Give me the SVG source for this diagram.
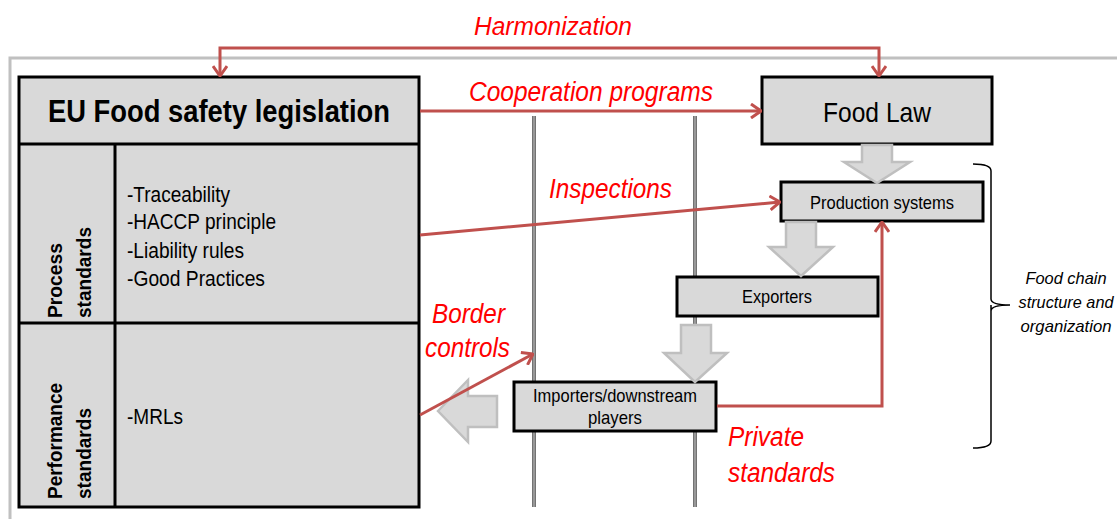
<svg xmlns="http://www.w3.org/2000/svg" width="1117" height="519" viewBox="0 0 1117 519">
<style>
.box{fill:#d9d9d9;stroke:#000;stroke-width:3}
.div{stroke:#000;stroke-width:3;fill:none}
.t{font-family:"Liberation Sans",Arial,sans-serif;fill:#000}
.b{font-weight:bold}
.red{font-family:"Liberation Sans",Arial,sans-serif;font-style:italic;fill:#ff0000}
.it{font-family:"Liberation Sans",Arial,sans-serif;font-style:italic;fill:#000}
.con{fill:none;stroke:#c0504d;stroke-width:3}
.blk{fill:#d9d9d9;stroke:#bfbfbf;stroke-width:2.5}
.vo{stroke:#444;stroke-width:3.5}
.vi{stroke:#d0d0d0;stroke-width:1.2}
</style>
<defs>
<marker id="arr" viewBox="0 0 12 16" refX="11" refY="8" markerWidth="12" markerHeight="16" markerUnits="userSpaceOnUse" orient="auto-start-reverse">
<path d="M1,1 L11,8 L1,15" fill="none" stroke="#c0504d" stroke-width="3"/>
</marker>
</defs>
<rect width="1117" height="519" fill="#fff"/>
<g id="frame">
<path d="M1117,58 L10,58 L10,519" fill="none" stroke="#c0c0c0" stroke-width="3"/>
</g>
<g id="borders">
<line class="vo" x1="534" y1="116" x2="534" y2="507"/>
<line class="vi" x1="534" y1="116" x2="534" y2="507"/>
<line class="vo" x1="695" y1="116" x2="695" y2="507"/>
<line class="vi" x1="695" y1="116" x2="695" y2="507"/>
</g>
<g id="eu-legislation">
<rect class="box" x="19" y="77" width="400" height="430"/>
<line class="div" x1="19" y1="144" x2="419" y2="144"/>
<line class="div" x1="19" y1="323" x2="419" y2="323"/>
<line class="div" x1="115" y1="144" x2="115" y2="507"/>
<text class="t b" x="219" y="122" font-size="32" text-anchor="middle" textLength="342" lengthAdjust="spacingAndGlyphs">EU Food safety legislation</text>
<text class="t b" font-size="20" transform="translate(62,318) rotate(-90)" textLength="75" lengthAdjust="spacingAndGlyphs">Process</text>
<text class="t b" font-size="20" transform="translate(91,318) rotate(-90)" textLength="91" lengthAdjust="spacingAndGlyphs">standards</text>
<text class="t b" font-size="20" transform="translate(62,499) rotate(-90)" textLength="116" lengthAdjust="spacingAndGlyphs">Performance</text>
<text class="t b" font-size="20" transform="translate(91,499) rotate(-90)" textLength="91" lengthAdjust="spacingAndGlyphs">standards</text>
<text class="t" x="127" y="202" font-size="22" textLength="103" lengthAdjust="spacingAndGlyphs">-Traceability</text>
<text class="t" x="127" y="229" font-size="22" textLength="149" lengthAdjust="spacingAndGlyphs">-HACCP principle</text>
<text class="t" x="127" y="258" font-size="22" textLength="117" lengthAdjust="spacingAndGlyphs">-Liability rules</text>
<text class="t" x="127" y="286" font-size="22" textLength="138" lengthAdjust="spacingAndGlyphs">-Good Practices</text>
<text class="t" x="127" y="424" font-size="22" textLength="56" lengthAdjust="spacingAndGlyphs">-MRLs</text>
</g>
<g id="food-law">
<rect class="box" x="762" y="77" width="230" height="67"/>
<text class="t" x="877" y="122" font-size="28" text-anchor="middle" textLength="108" lengthAdjust="spacingAndGlyphs">Food Law</text>
</g>
<g id="production-systems">
<rect class="box" x="781" y="182" width="202" height="39"/>
<text class="t" x="882" y="209" font-size="19" text-anchor="middle" textLength="144" lengthAdjust="spacingAndGlyphs">Production systems</text>
</g>
<g id="exporters">
<rect class="box" x="677" y="277" width="201" height="39"/>
<text class="t" x="777" y="303" font-size="19" text-anchor="middle" textLength="70" lengthAdjust="spacingAndGlyphs">Exporters</text>
</g>
<g id="importers">
<rect class="box" x="514" y="382" width="202" height="49"/>
<text class="t" x="615" y="402" font-size="19" text-anchor="middle" textLength="164" lengthAdjust="spacingAndGlyphs">Importers/downstream</text>
<text class="t" x="615" y="424" font-size="19" text-anchor="middle" textLength="54" lengthAdjust="spacingAndGlyphs">players</text>
</g>
<g id="flow-arrows">
<path class="blk" d="M862,145 L892,145 L892,162 L910,162 L877,183 L844,162 L862,162 Z"/>
<path class="blk" d="M786,222 L816,222 L816,247 L833,247 L801,276 L769,247 L786,247 Z"/>
<path class="blk" d="M681,325 L711,325 L711,353 L727,353 L695,382 L664,353 L681,353 Z"/>
<path class="blk" d="M438,411 L468,380 L468,396 L497,396 L497,427 L468,427 L468,442 Z"/>
</g>
<g id="connectors">
<path class="con" d="M220,76 L220,48 L879,48 L879,76" marker-start="url(#arr)" marker-end="url(#arr)"/>
<path class="con" d="M420,111 L761,111" marker-end="url(#arr)"/>
<path class="con" d="M420,235 L780,202" marker-end="url(#arr)"/>
<path class="con" d="M420,415 L533,354" marker-end="url(#arr)"/>
<path class="con" d="M717,406 L882,406 L882,222" marker-end="url(#arr)"/>
</g>
<g id="labels">
<text class="red" x="474" y="35" font-size="25" textLength="158" lengthAdjust="spacingAndGlyphs">Harmonization</text>
<text class="red" x="469" y="101" font-size="27" textLength="244" lengthAdjust="spacingAndGlyphs">Cooperation programs</text>
<text class="red" x="549" y="198" font-size="28" textLength="123" lengthAdjust="spacingAndGlyphs">Inspections</text>
<text class="red" x="432" y="323" font-size="27" textLength="73" lengthAdjust="spacingAndGlyphs">Border</text>
<text class="red" x="425" y="357" font-size="27" textLength="85" lengthAdjust="spacingAndGlyphs">controls</text>
<text class="red" x="728" y="446" font-size="27" textLength="76" lengthAdjust="spacingAndGlyphs">Private</text>
<text class="red" x="728" y="482" font-size="27" textLength="107" lengthAdjust="spacingAndGlyphs">standards</text>
</g>
<g id="food-chain-brace">
<path d="M973,164 Q991,164 991,171 L991,299 Q991,305 1010,305 M991,305 Q991,311 991,311 L991,441 Q991,448 973,448 M1010,305 Q991,305 991,311" fill="none" stroke="#000" stroke-width="1.5"/>
<text class="it" x="1066" y="284" font-size="17" text-anchor="middle" textLength="81" lengthAdjust="spacingAndGlyphs">Food chain</text>
<text class="it" x="1066" y="308" font-size="17" text-anchor="middle" textLength="95" lengthAdjust="spacingAndGlyphs">structure and</text>
<text class="it" x="1066" y="332" font-size="17" text-anchor="middle" textLength="91" lengthAdjust="spacingAndGlyphs">organization</text>
</g>
</svg>
